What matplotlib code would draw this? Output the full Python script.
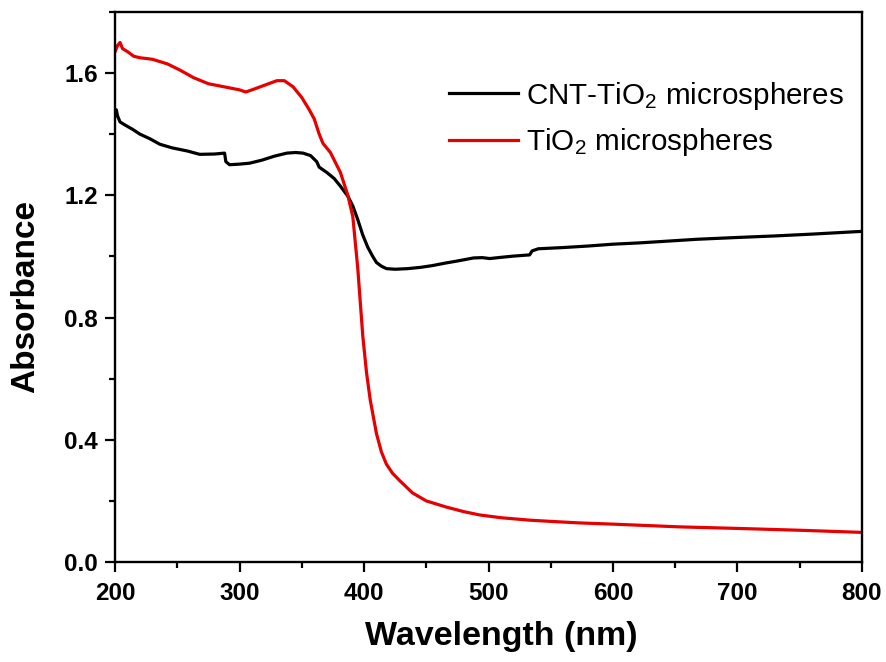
import matplotlib
matplotlib.use("Agg")
import matplotlib.pyplot as plt
from matplotlib.ticker import MultipleLocator

plt.rcParams['font.family'] = ['Liberation Sans', 'DejaVu Sans']
plt.rcParams['mathtext.fontset'] = 'custom'
plt.rcParams['mathtext.rm'] = 'Liberation Sans'
plt.rcParams['mathtext.it'] = 'Liberation Sans:italic'
plt.rcParams['mathtext.bf'] = 'Liberation Sans:bold'

# CNT-TiO2 microspheres (black)
cnt_wl = [200, 201, 202, 204, 208, 214, 220, 228, 236, 246, 258, 268, 280, 288,
          289, 292, 300, 308, 318, 328, 338, 345, 351, 357, 362, 364, 370, 376,
          381, 387, 391, 395, 399, 403, 407, 410, 414, 418, 425, 435, 445, 455,
          465, 475, 488, 495, 501, 510, 520, 533, 535, 540, 560, 580, 600, 620,
          640, 667, 700, 730, 760, 800]
cnt_abs = [1.46, 1.48, 1.46, 1.44, 1.43, 1.416, 1.40, 1.385, 1.367, 1.355, 1.345,
           1.334, 1.335, 1.338, 1.31, 1.30, 1.302, 1.305, 1.315, 1.328, 1.338,
           1.34, 1.338, 1.33, 1.31, 1.292, 1.275, 1.255, 1.23, 1.197, 1.165,
           1.12, 1.07, 1.03, 1.00, 0.98, 0.968, 0.96, 0.958, 0.96, 0.964, 0.970,
           0.978, 0.985, 0.995, 0.996, 0.993, 0.997, 1.001, 1.005, 1.018, 1.025,
           1.029, 1.034, 1.040, 1.044, 1.049, 1.056, 1.062, 1.067, 1.073, 1.082]

# TiO2 microspheres (red)
tio_wl = [200, 202, 204, 206, 210, 215, 220, 230, 242, 252, 263, 275, 290, 300,
          305, 310, 320, 330, 336, 343, 350, 356, 360, 364, 367, 373, 381, 387,
          391, 395, 399, 402, 405, 410, 414, 418, 423, 429, 439, 450, 466, 480,
          493, 510, 533, 550, 573, 600, 654, 700, 750, 800]
tio_abs = [1.67, 1.69, 1.70, 1.68, 1.67, 1.655, 1.65, 1.645, 1.63, 1.61, 1.585,
           1.565, 1.553, 1.545, 1.538, 1.545, 1.56, 1.575, 1.575, 1.555, 1.52,
           1.48, 1.45, 1.40, 1.37, 1.34, 1.275, 1.20, 1.13, 0.96, 0.74, 0.62,
           0.53, 0.42, 0.36, 0.32, 0.29, 0.265, 0.226, 0.20, 0.18, 0.165, 0.154,
           0.145, 0.137, 0.133, 0.128, 0.124, 0.115, 0.11, 0.104, 0.097]

labels = [r'CNT-TiO$_2$ microspheres', r'TiO$_2$ microspheres']
xticks = [200, 300, 400, 500, 600, 700, 800]
yticks = [0.0, 0.4, 0.8, 1.2, 1.6]

fig = plt.figure(figsize=(8.87, 6.62), dpi=100)
ax = fig.add_axes([0.1297, 0.151, 0.8421, 0.831])

ax.plot(cnt_wl, cnt_abs, color='black', lw=2.3, label=labels[0])
ax.plot(tio_wl, tio_abs, color='#e60000', lw=2.3, label=labels[1])

ax.set_xlim(200, 800)
ax.set_ylim(0, 1.8)
ax.set_xticks(xticks)
ax.set_yticks(yticks)
ax.set_yticklabels([f'{v:.1f}' for v in yticks])
ax.xaxis.set_minor_locator(MultipleLocator(50))
ax.yaxis.set_minor_locator(MultipleLocator(0.2))

for s in ax.spines.values():
    s.set_linewidth(1.7)
ax.tick_params(which='major', direction='out', length=7.2, width=1.6)
ax.tick_params(which='minor', direction='out', length=4.3, width=1.6)
ax.tick_params(top=False, right=False)
ax.tick_params(axis='x', which='major', pad=7.5, labelsize=17.5)
ax.tick_params(axis='y', which='major', pad=5, labelsize=17.5)

for t in ax.get_xticklabels() + ax.get_yticklabels():
    t.set_fontweight('bold')

ax.set_xlabel('Wavelength (nm)', fontsize=24.5, fontweight='bold')
ax.xaxis.set_label_coords(0.517, -0.108)
ax.set_ylabel('Absorbance', fontsize=24, fontweight='bold')
ax.yaxis.set_label_coords(-0.099, 0.482)

leg = ax.legend(loc='upper left', bbox_to_anchor=(0.447, 0.877), frameon=False,
                fontsize=21.3, handlelength=2.35, handletextpad=0.25,
                labelspacing=0.5, borderpad=0, borderaxespad=0)

fig.savefig('out.png', dpi=100)
